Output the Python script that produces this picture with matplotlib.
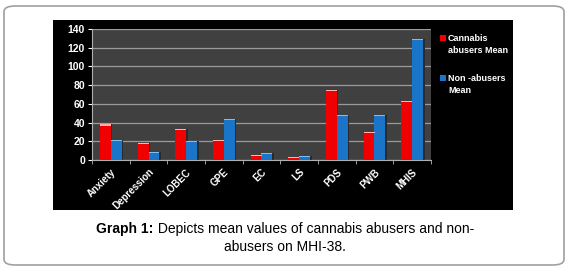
import matplotlib.pyplot as plt
import numpy as np
from matplotlib.patches import FancyBboxPatch, Rectangle

categories = ["Anxiety", "Depression", "LOBEC", "GPE", "EC", "LS", "PDS", "PWB", "MHIS"]
cannabis_mean = [38, 18, 33, 21, 5, 3, 75, 30, 63]
non_abusers_mean = [21, 9, 20, 44, 8, 4, 48, 48, 129]
series_labels = ["Cannabis\nabusers Mean", "Non -abusers\nMean"]
yticks = [0, 20, 40, 60, 80, 100, 120, 140]

plt.rcParams["font.family"] = ["Liberation Sans", "DejaVu Sans"]

W, H = 570, 270
fig = plt.figure(figsize=(W / 100, H / 100), dpi=100)
fig.patch.set_facecolor("white")

# rounded outer frame
fig.patches.append(FancyBboxPatch((4 / W, 5 / H), 560 / W, 259 / H,
                                  boxstyle="round,pad=0,rounding_size=0.02",
                                  transform=fig.transFigure, facecolor="white",
                                  edgecolor="#a0a0a0", linewidth=1.2, zorder=0))
# black chart area
fig.patches.append(Rectangle((53 / W, 1 - 210 / H), 460 / W, 190 / H,
                             transform=fig.transFigure, facecolor="black",
                             edgecolor="none", zorder=1))

ax = fig.add_axes([92 / W, 1 - 160 / H, 339 / W, 131 / H])
ax.set_facecolor("#404040")
ax.set_zorder(2)

x = np.arange(len(categories))
bw = 0.29
red, red_top = "#f00000", "#ffb0b0"
blue, blue_top = "#1a74c8", "#7cc0f0"
colors = [red, blue]

for vals, off, col, top in [(cannabis_mean, -bw / 2, red, red_top),
                            (non_abusers_mean, bw / 2, blue, blue_top)]:
    vals = np.array(vals, dtype=float)
    # shadow
    ax.bar(x + off + 0.04, vals, bw, color="#2a2a2a", zorder=2)
    ax.bar(x + off, vals, bw, color=col, zorder=3)
    ax.bar(x + off, np.minimum(1.2, vals), bw, bottom=vals - np.minimum(1.2, vals),
           color=top, zorder=4)

ax.set_xlim(-0.5, len(categories) - 0.5)
ax.set_ylim(0, 140)
ax.set_yticks(yticks)
ax.yaxis.grid(True, color="#9a9a9a", linewidth=0.9)
ax.set_axisbelow(True)
ax.set_xticks(x)
ax.set_xticklabels(categories, rotation=45, ha="right", rotation_mode="anchor",
                   color="white", fontweight="bold", fontsize=7)
ax.set_xticks(np.arange(len(categories) + 1) - 0.5, minor=True)
ax.tick_params(axis="x", which="major", length=0, pad=5)
ax.tick_params(axis="x", which="minor", length=3, color="#b0b0b0")
ax.tick_params(axis="y", colors="white", labelsize=7.5, length=3, pad=2)
for lab in ax.get_yticklabels():
    lab.set_fontweight("bold")
for s in ["top", "right"]:
    ax.spines[s].set_visible(False)
ax.spines["left"].set_color("#b0b0b0")
ax.spines["bottom"].set_color("#b0b0b0")

# legend: square aligned with first text line
for i, (lbl, col) in enumerate(zip(series_labels, colors)):
    ytop = 34 + i * 40
    fig.patches.append(Rectangle((440 / W, 1 - (ytop + 7) / H), 6 / W, 6 / H,
                                 transform=fig.transFigure, facecolor=col,
                                 edgecolor="none", zorder=3))
    fig.text(448 / W, 1 - ytop / H, lbl, color="white", fontweight="bold",
             fontsize=6.5, ha="left", va="top", linespacing=1.45, zorder=3)

# caption
fig.canvas.draw()
r = fig.canvas.get_renderer()
t1 = fig.text(0, 1 - 229 / H, "Graph 1:", fontweight="bold", fontsize=10,
              ha="left", va="center")
t2 = fig.text(0, 1 - 229 / H, " Depicts mean values of cannabis abusers and non-",
              fontsize=10, ha="left", va="center")
w1 = t1.get_window_extent(r).width
w2 = t2.get_window_extent(r).width
x0 = (285 - (w1 + w2) / 2)
t1.set_x(x0 / W)
t2.set_x((x0 + w1) / W)
fig.text(285 / W, 1 - 247 / H, "abusers on MHI-38.", fontsize=10,
         ha="center", va="center")

fig.savefig("out.png", dpi=100)
